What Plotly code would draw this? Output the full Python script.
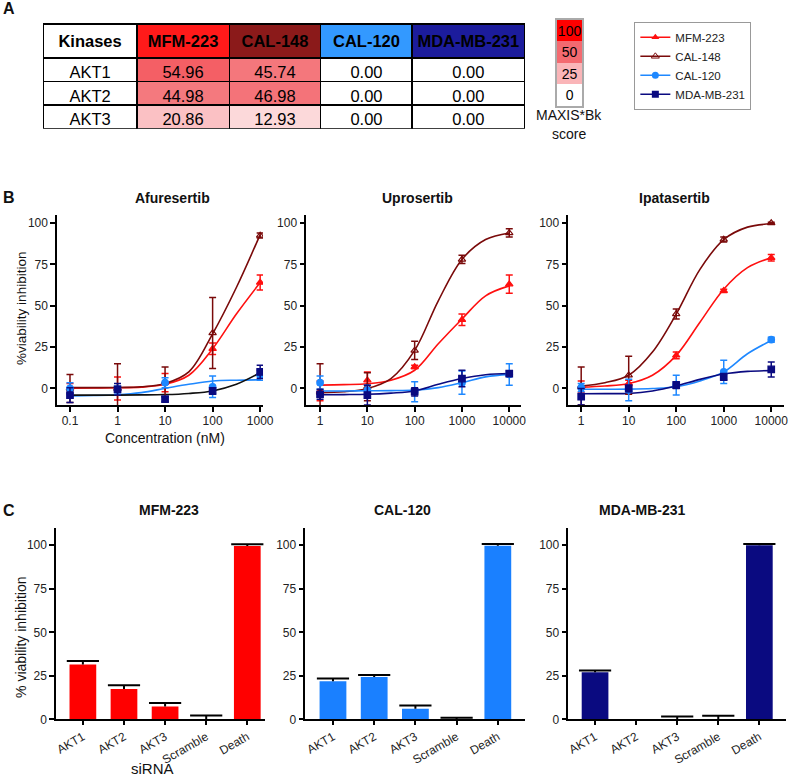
import plotly.graph_objects as go

FONT = "Liberation Sans, Arial, sans-serif"
W, H = 800, 781

CELL_LINES = ["MFM-223", "CAL-148", "CAL-120", "MDA-MB-231"]
LINE_COLORS = ["#FF1010", "#7A0A0A", "#1E88FF", "#0A0A80"]
HEADER_COLORS = ["#FF1A1A", "#8B1A1A", "#3399FF", "#1C1C9C"]
SYMBOLS = ["triangle-up", "triangle-up-open", "circle", "square"]

# ---- panel A: MAXIS*Bk scores
KINASES = ["AKT1", "AKT2", "AKT3"]
SCORE_MFM223 = [54.96, 44.98, 20.86]
SCORE_CAL148 = [45.74, 46.98, 12.93]
SCORE_CAL120 = [0.00, 0.00, 0.00]
SCORE_MDA231 = [0.00, 0.00, 0.00]
SCALE_STEPS = [0, 25, 50, 100]
SCALE_COLORS = ["#FFFFFF", "#FAB5B8", "#F36A70", "#FF0000"]

# ---- panel B: dose response (order = CELL_LINES)
AFU_CONC = [0.1, 1, 10, 100, 1000]
AFU_MEAN = [[0, 0, 3.5, 24, 64], [0, 0, 4, 33.5, 92.5],
            [0, -1, 3.5, 1, 8], [-4, -0.5, -6.5, -1.5, 10]]
AFU_SD = [[3, 7, 5.5, 3.5, 4.5], [8.5, 15, 9, 21.5, 1.5],
          [3.5, 2.5, 3, 6.5, 3], [4.5, 3.5, 1.5, 2, 4]]
AFU_FIT_CONC = [0.1, 0.316, 1, 3.16, 10, 31.6, 100, 316, 1000]
AFU_FIT = [[0.2, 0.3, 0.4, 0.8, 2.5, 8, 24, 45, 64],
           [0.5, 0.5, 0.6, 1, 3, 10, 33, 61, 93],
           [-4.5, -4.3, -3.8, -2.5, 0, 2.5, 4.5, 5, 5.2],
           [-4, -4, -4, -3.9, -3.7, -3, -1.5, 2.5, 9.5]]

UPRO_CONC = [1, 10, 100, 1000, 10000]
UPRO_MEAN = [[-1.5, 5, 13, 41.5, 63], [-2.5, 1, 23, 78, 94],
             [3.5, -1, -2, 3.5, 8.5], [-3.5, -4, -2, 6, 9]]
UPRO_SD = [[6, 5, 1, 3.5, 5.5], [17.5, 8.5, 5.5, 2.5, 2.5],
           [4, 3, 6, 7, 6.5], [3, 6, 2.5, 5, 1.5]]
UPRO_FIT_CONC = [1, 3.16, 10, 31.6, 100, 316, 1000, 3162, 10000]
UPRO_FIT = [[2, 2.3, 2.8, 5, 11, 27, 42, 56, 62],
            [-2.5, -2, 0, 6, 23, 53, 78, 90, 94],
            [-1.5, -1.5, -1.4, -1.3, -1, 0.5, 3.5, 7, 8.5],
            [-3.8, -3.7, -3.5, -2.8, -1.5, 2.5, 6, 8.3, 9]]

IPA_CONC = [1, 10, 100, 1000, 10000]
IPA_MEAN = [[1, 3, 20, 59, 79], [1.5, 8, 45, 90, 100],
            [0.5, -1, 2, 10, 29.5], [-5, 0, 2, 7, 11.5]]
IPA_SD = [[3.5, 2, 2, 1, 2], [11.5, 11.5, 3, 1.5, 0.5],
          [2.5, 6.5, 6, 7, 1.5], [5, 2, 2, 2, 4.5]]
IPA_FIT_CONC = [1, 3.16, 10, 31.6, 100, 316, 1000, 3162, 10000]
IPA_FIT = [[0.8, 1.5, 3, 8, 20, 40, 60, 73, 79],
           [1.5, 3.5, 8, 22, 45, 72, 90, 97.5, 99.5],
           [-0.5, -0.5, -0.4, 0, 1, 4.5, 10, 21, 29],
           [-3.2, -3.1, -3, -1.5, 1.5, 5.5, 8.7, 10.3, 10.8]]

# ---- panel C: siRNA knockdown
SIRNA = ["AKT1", "AKT2", "AKT3", "Scramble", "Death"]
KD_MFM223 = [31.5, 17.5, 7.5, 0, 99.5]
KD_MFM223_SEM = [2, 2.2, 2, 2.3, 1]
KD_CAL120 = [22, 24.3, 6.2, 0, 99.7]
KD_CAL120_SEM = [1.5, 1.2, 1.8, 1, 0.9]
KD_MDA231 = [27.1, 0, 0, 0, 100]
KD_MDA231_SEM = [1, None, 1.7, 2.1, 0.7]


def fx(p):
    return p / W


def fy(p):
    return 1 - p / H


def score_color(v):
    for i in range(len(SCALE_STEPS) - 1):
        a, b = SCALE_STEPS[i], SCALE_STEPS[i + 1]
        if v <= b:
            t = (v - a) / (b - a)
            ca = [int(SCALE_COLORS[i][k:k + 2], 16) for k in (1, 3, 5)]
            cb = [int(SCALE_COLORS[i + 1][k:k + 2], 16) for k in (1, 3, 5)]
            c = [round(x + (y - x) * t) for x, y in zip(ca, cb)]
            return "rgb({},{},{})".format(*c)
    return SCALE_COLORS[-1]


fig = go.Figure()

# table
score_cols = [SCORE_MFM223, SCORE_CAL148, SCORE_CAL120, SCORE_MDA231]
fig.add_trace(go.Table(
    domain=dict(x=[fx(43), fx(532)], y=[fy(130), fy(24)]),
    columnwidth=[95, 94, 93, 93, 114],
    header=dict(
        values=["<b>Kinases</b>"] + [f"<b>{c}</b>" for c in CELL_LINES],
        fill_color=["white"] + HEADER_COLORS,
        line=dict(color="black", width=1.5), align="center", height=24,
        font=dict(family=FONT, size=16.5, color="black"),
    ),
    cells=dict(
        values=[KINASES] + [[f"{v:.2f}" for v in col] for col in score_cols],
        fill_color=[["white"] * 3] + [[score_color(v) for v in col] for col in score_cols],
        line=dict(color="black", width=1.5), align="center", height=23.5,
        font=dict(family=FONT, size=16.5, color="black"),
    ),
))

# score scale
fig.add_trace(go.Heatmap(
    z=[[s] for s in SCALE_STEPS], x=[0], y=list(range(len(SCALE_STEPS))),
    text=[[str(s)] for s in SCALE_STEPS], texttemplate="%{text}",
    textfont=dict(family=FONT, size=14, color="black"),
    colorscale=[[s / 100, c] for s, c in zip(SCALE_STEPS, SCALE_COLORS)],
    zmin=0, zmax=100, showscale=False, hoverinfo="skip",
    xaxis="x7", yaxis="y7",
))


def add_dose(conc, mean, sd, fit_conc, fit, n, fit_colors=LINE_COLORS):
    for i in range(len(CELL_LINES)):
        fig.add_trace(go.Scatter(
            x=fit_conc, y=fit[i], mode="lines", showlegend=False,
            line=dict(color=fit_colors[i], width=1.6, shape="spline"),
            xaxis=f"x{n}", yaxis=f"y{n}", hoverinfo="skip",
        ))
    for i in range(len(CELL_LINES)):
        fig.add_trace(go.Scatter(
            x=conc, y=mean[i], mode="markers", showlegend=False,
            marker=dict(symbol=SYMBOLS[i], size=6.5, color=LINE_COLORS[i],
                        line=dict(color=LINE_COLORS[i], width=1.2)),
            error_y=dict(type="data", array=sd[i], color=LINE_COLORS[i],
                         thickness=1.5, width=3.5),
            xaxis=f"x{n}", yaxis=f"y{n}",
        ))


add_dose(AFU_CONC, AFU_MEAN, AFU_SD, AFU_FIT_CONC, AFU_FIT, "",
         fit_colors=LINE_COLORS[:3] + ["#101010"])
add_dose(UPRO_CONC, UPRO_MEAN, UPRO_SD, UPRO_FIT_CONC, UPRO_FIT, 2)
add_dose(IPA_CONC, IPA_MEAN, IPA_SD, IPA_FIT_CONC, IPA_FIT, 3)

# legend entries
for i, name in enumerate(CELL_LINES):
    fig.add_trace(go.Scatter(
        x=[None], y=[None], mode="lines+markers", name=name,
        line=dict(color=LINE_COLORS[i], width=1.5),
        marker=dict(symbol=SYMBOLS[i], size=7, color=LINE_COLORS[i]),
    ))


def add_kd(values, sem, color, n):
    tops = [v + e if e is not None else None for v, e in zip(values, sem)]
    fig.add_trace(go.Bar(
        x=SIRNA, y=values, width=0.65, showlegend=False,
        marker=dict(color=color, line=dict(width=0)),
        error_y=dict(type="data", symmetric=False, array=sem,
                     arrayminus=[0] * len(values), width=0,
                     thickness=2, color="black"),
        xaxis=f"x{n}", yaxis=f"y{n}",
    ))
    fig.add_trace(go.Scatter(
        x=SIRNA, y=tops, mode="markers", showlegend=False, hoverinfo="skip",
        marker=dict(symbol="line-ew", size=23, line=dict(width=2, color="black")),
        xaxis=f"x{n}", yaxis=f"y{n}",
    ))


add_kd(KD_MFM223, KD_MFM223_SEM, "#FF0000", 4)
add_kd(KD_CAL120, KD_CAL120_SEM, "#1A80FF", 5)
add_kd(KD_MDA231, KD_MDA231_SEM, "#0A0A80", 6)


def axis(**kw):
    base = dict(showline=True, linecolor="black", linewidth=1.6,
                ticks="outside", ticklen=5, tickwidth=1.5, tickcolor="black",
                showgrid=False, zeroline=False,
                tickfont=dict(family=FONT, size=12, color="#222"))
    base.update(kw)
    return base


b_y = dict(range=[-10.2, 104.8], tickvals=[0, 25, 50, 75, 100],
           domain=[fy(409), fy(217)])
c_y = dict(range=[0, 109.7], tickvals=[0, 25, 50, 75, 100],
           domain=[fy(726), fy(533)])
c_x = dict(type="category", ticklen=4, tickangle=-30)
b_x = dict(type="log", ticklabelstandoff=-2)

layout_axes = dict(
    xaxis=axis(domain=[fx(57), fx(266)], range=[-1.27, 3.06],
               tickvals=AFU_CONC, ticktext=[str(c) for c in AFU_CONC],
               anchor="y", **b_x),
    yaxis=axis(anchor="x", **b_y),
    xaxis2=axis(domain=[fx(310), fx(528)], range=[-0.29, 4.25],
                tickvals=UPRO_CONC, ticktext=[str(c) for c in UPRO_CONC],
                anchor="y2", **b_x),
    yaxis2=axis(anchor="x2", **b_y),
    xaxis3=axis(domain=[fx(576), fx(795)], range=[-0.27, 4.27],
                tickvals=IPA_CONC, ticktext=[str(c) for c in IPA_CONC],
                anchor="y3", **b_x),
    yaxis3=axis(anchor="x3", **b_y),
    xaxis4=axis(domain=[fx(56), fx(268)], range=[-0.65, 4.43], anchor="y4", **c_x),
    yaxis4=axis(anchor="x4", **c_y),
    xaxis5=axis(domain=[fx(309), fx(532)], range=[-0.67, 4.66], anchor="y5", **c_x),
    yaxis5=axis(anchor="x5", **c_y),
    xaxis6=axis(domain=[fx(576), fx(797)], range=[-0.65, 4.65], anchor="y6", **c_x),
    yaxis6=axis(anchor="x6", **c_y),
    xaxis7=dict(domain=[fx(564), fx(590)], range=[-0.5, 0.5], anchor="y7",
                showline=True, mirror=True, linecolor="#AAAAAA", linewidth=1.5,
                showticklabels=False, ticks="", showgrid=False, zeroline=False),
    yaxis7=dict(domain=[fy(107), fy(20)], range=[-0.5, 3.5], anchor="x7",
                showline=True, mirror=True, linecolor="#AAAAAA", linewidth=1.5,
                showticklabels=False, ticks="", showgrid=False, zeroline=False),
)


def note(text, x, y, size=14, bold=False, angle=0):
    return dict(text=f"<b>{text}</b>" if bold else text, x=fx(x), y=fy(y),
                xref="paper", yref="paper", showarrow=False, textangle=angle,
                xanchor="center", yanchor="middle",
                font=dict(family=FONT, size=size, color="#111"))


annotations = [
    note("A", 8, 9, 16, True), note("B", 8, 199, 16, True), note("C", 8, 515, 16, True),
    note("Afuresertib", 174, 200, 14, True), note("Uprosertib", 423, 200, 14, True),
    note("Ipatasertib", 684, 200, 14, True),
    note("MFM-223", 171, 515, 14, True), note("CAL-120", 408, 515, 14, True),
    note("MDA-MB-231", 651, 515, 14, True),
    note("%viability inhibition", 21, 311, 13.5, angle=-90),
    note("Concentration (nM)", 167, 442, 14),
    note("% viability inhibition", 21, 643, 14, angle=-90),
    note("siRNA", 154, 775, 15),
    note("MAXIS*Bk", 577, 116, 14), note("score", 577, 135, 14),
]

fig.update_layout(
    width=W, height=H, margin=dict(l=0, r=0, t=0, b=0),
    paper_bgcolor="white", plot_bgcolor="white",
    font=dict(family=FONT, size=12, color="#222"),
    legend=dict(x=fx(643), y=fy(22), xanchor="left", yanchor="top",
                bordercolor="#999999", borderwidth=1, bgcolor="white",
                font=dict(family=FONT, size=11.5, color="#222"),
                tracegroupgap=0, itemwidth=30),
    annotations=annotations,
    **layout_axes,
)

# the page body has a default 8px margin; remove it so the figure fills the window
fig.write_html("out.html", config={"displayModeBar": False},
               post_script="document.body.style.margin = '0';")
